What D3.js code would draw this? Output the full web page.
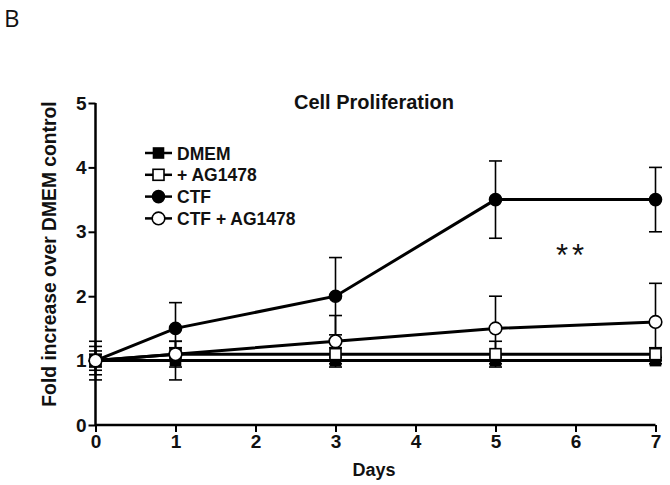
<!DOCTYPE html>
<html>
<head>
<meta charset="utf-8">
<script src="https://cdn.jsdelivr.net/npm/d3@7"></script>
<style>
  body { margin: 0; background: #fff; }
  svg text { font-family: "Liberation Sans", Arial, sans-serif; }
</style>
</head>
<body>
<div id="chart"></div>
<script>
// data
var days = [0, 1, 3, 5, 7];
var dmem = [1, 1, 1, 1, 1];
var dmemErr = [0.1, 0.3, 0.05, 0.05, 0.05];
var ag = [1, 1.1, 1.1, 1.1, 1.1];
var agErr = [0.15, 0.1, 0.1, 0.2, 0.1];
var ctf = [1, 1.5, 2.0, 3.5, 3.5];
var ctfErr = [0.3, 0.4, 0.6, 0.6, 0.5];
var ctfAg = [1, 1.1, 1.3, 1.5, 1.6];
var ctfAgErr = [0.22, 0.2, 0.4, 0.5, 0.6];
var xTicks = [0, 1, 2, 3, 4, 5, 6, 7];
var yTicks = [0, 1, 2, 3, 4, 5];

var series = [
    { name: "DMEM", values: dmem, err: dmemErr, shape: "square", fill: "#000" },
    { name: "+ AG1478", values: ag, err: agErr, shape: "square", fill: "#fff" },
    { name: "CTF", values: ctf, err: ctfErr, shape: "circle", fill: "#000" },
    { name: "CTF + AG1478", values: ctfAg, err: ctfAgErr, shape: "circle", fill: "#fff" }
];

var w = 670, h = 485;

var svg = d3.select("#chart")
    .append("svg")
    .attr("width", w)
    .attr("height", h);

var x = d3.scaleLinear().domain([0, 7]).range([95.5, 655.5]);
var y = d3.scaleLinear().domain([0, 5]).range([425, 103]);

// panel letter
svg.append("text")
    .attr("x", 4)
    .attr("y", 27)
    .text("B")
    .style("font-family", "'Open Sans', sans-serif")
    .attr("font-size", "24px")
    .attr("fill", "#111");

// axes
var xAxis = svg.append("g")
    .attr("transform", "translate(0," + y(0) + ")")
    .call(d3.axisBottom(x).tickValues(xTicks).tickSize(7).tickPadding(3).tickFormat(d3.format("d")));

var yAxis = svg.append("g")
    .attr("transform", "translate(" + x(0) + ",0)")
    .call(d3.axisLeft(y).tickValues(yTicks).tickSize(7).tickPadding(2).tickFormat(d3.format("d")));

[xAxis, yAxis].forEach(function(g) {
    g.select(".domain").attr("stroke", "#000").attr("stroke-width", 2.5);
    g.selectAll(".tick line").attr("stroke", "#000").attr("stroke-width", 2);
    g.selectAll(".tick text")
        .attr("font-size", "19px")
        .attr("font-weight", "bold")
        .attr("fill", "#111")
        .style("font-family", "'Liberation Sans', Arial, sans-serif");
});
// remove outer ticks from the domain path
xAxis.select(".domain").attr("d", "M" + x(0) + ",0H" + x(7));
yAxis.select(".domain").attr("d", "M0," + y(0) + "V" + y(5));

// error bars
var capW = 6.5;
series.forEach(function(s) {
    var g = svg.append("g");
    days.forEach(function(d, i) {
        var cx = x(d), hi = y(s.values[i] + s.err[i]), lo = y(s.values[i] - s.err[i]);
        g.append("line").attr("x1", cx).attr("x2", cx).attr("y1", hi).attr("y2", lo)
            .attr("stroke", "#000").attr("stroke-width", 1.6);
        [hi, lo].forEach(function(yy) {
            g.append("line").attr("x1", cx - capW).attr("x2", cx + capW).attr("y1", yy).attr("y2", yy)
                .attr("stroke", "#000").attr("stroke-width", 1.6);
        });
    });
});

var line = d3.line()
    .x(function(d, i) { return x(days[i]); })
    .y(function(d) { return y(d); });

series.forEach(function(s) {
    svg.append("path")
        .datum(s.values)
        .attr("d", line)
        .attr("fill", "none")
        .attr("stroke", "#000")
        .attr("stroke-width", 3);
});

function marker(g, s, cx, cy) {
    if (s.shape === "square") {
        var sz = s.fill === "#000" ? 10 : 11;
        g.append("rect")
            .attr("x", cx - sz / 2).attr("y", cy - sz / 2)
            .attr("width", sz).attr("height", sz)
            .attr("fill", s.fill).attr("stroke", "#000").attr("stroke-width", 1.6);
    } else {
        g.append("circle")
            .attr("cx", cx).attr("cy", cy)
            .attr("r", s.fill === "#000" ? 6 : 6.3)
            .attr("fill", s.fill).attr("stroke", "#000").attr("stroke-width", 1.6);
    }
}

series.forEach(function(s) {
    var g = svg.append("g");
    days.forEach(function(d, i) {
        marker(g, s, x(d), y(s.values[i]));
    });
});

// legend
series.forEach(function(s, i) {
    var ly = 153 + i * 21.8;
    var g = svg.append("g");
    g.append("line").attr("x1", 145).attr("x2", 172).attr("y1", ly).attr("y2", ly)
        .attr("stroke", "#000").attr("stroke-width", 2.5);
    marker(g, s, 158.5, ly);
    g.append("text")
        .attr("x", 177)
        .attr("y", ly + 6.5)
        .text(s.name)
        .attr("font-size", "17.5px")
        .attr("font-weight", "bold")
        .attr("fill", "#111");
});

// title
svg.append("text")
    .attr("x", 374)
    .attr("y", 109)
    .attr("text-anchor", "middle")
    .text("Cell Proliferation")
    .attr("font-size", "20px")
    .attr("font-weight", "bold")
    .attr("fill", "#111");

// axis titles
svg.append("text")
    .attr("x", 374)
    .attr("y", 476)
    .attr("text-anchor", "middle")
    .text("Days")
    .attr("font-size", "18px")
    .attr("font-weight", "bold")
    .attr("fill", "#111");

svg.append("text")
    .attr("transform", "translate(56,254) rotate(-90)")
    .attr("text-anchor", "middle")
    .text("Fold increase over DMEM control")
    .attr("font-size", "19.3px")
    .attr("font-weight", "bold")
    .attr("fill", "#111");

// significance mark
svg.append("text")
    .attr("x", 572)
    .attr("y", 266)
    .attr("text-anchor", "middle")
    .text("**")
    .attr("font-size", "31px")
    .attr("letter-spacing", "4px")
    .attr("fill", "#111");
</script>
</body>
</html>
